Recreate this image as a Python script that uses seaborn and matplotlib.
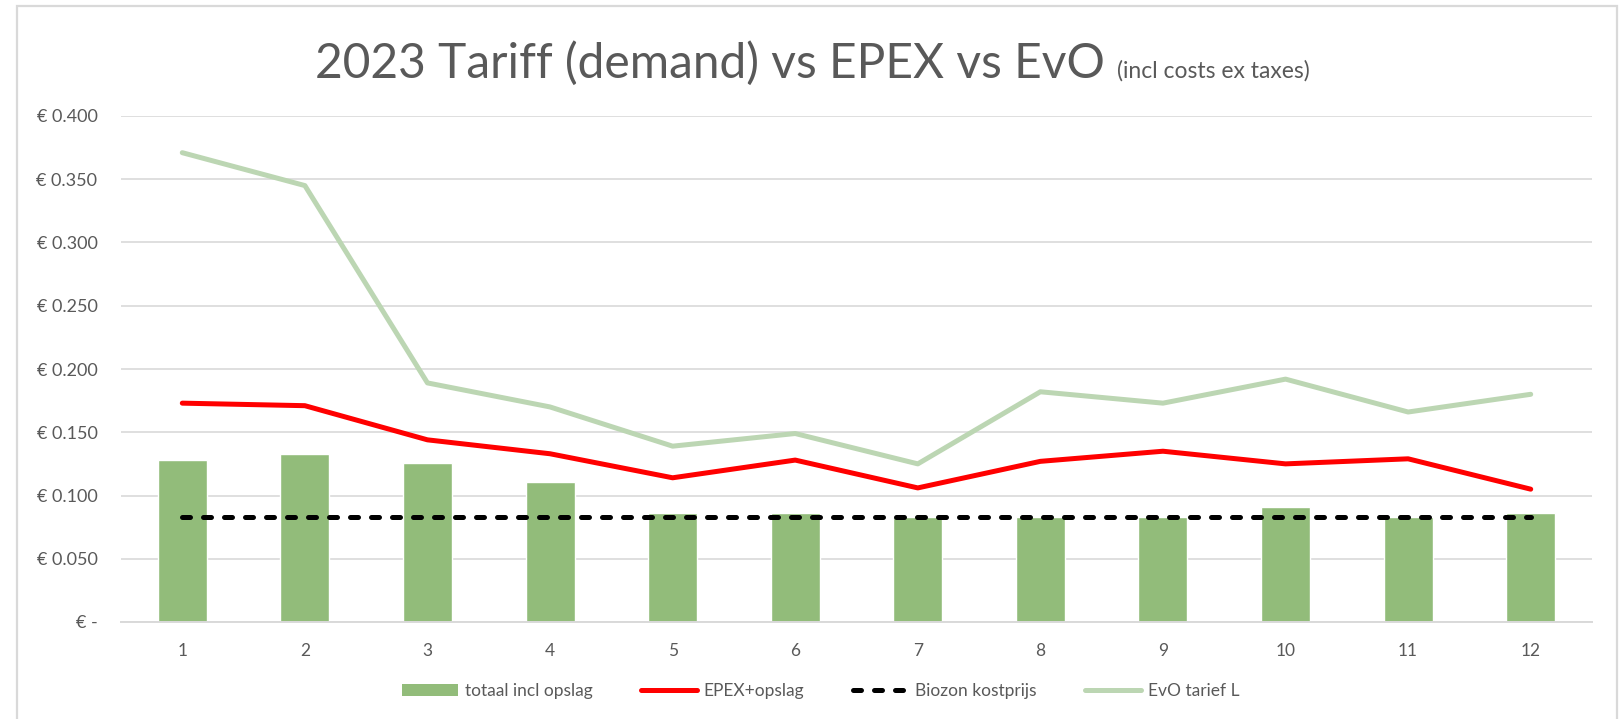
import numpy as np
import pandas as pd
import matplotlib
matplotlib.use("Agg")
import matplotlib.pyplot as plt
import seaborn as sns
from matplotlib.lines import Line2D
from matplotlib.patches import Patch, Rectangle
from matplotlib.ticker import FuncFormatter

# Data
months = [1, 2, 3, 4, 5, 6, 7, 8, 9, 10, 11, 12]
totaal_incl_opslag = [0.128, 0.133, 0.126, 0.111, 0.086, 0.086, 0.083, 0.083, 0.083, 0.091, 0.083, 0.086]
epex_opslag = [0.173, 0.171, 0.144, 0.133, 0.114, 0.128, 0.106, 0.127, 0.135, 0.125, 0.129, 0.105]
biozon_kostprijs = [0.083] * 12
evo_tarief_l = [0.371, 0.345, 0.189, 0.170, 0.139, 0.149, 0.125, 0.182, 0.173, 0.192, 0.166, 0.180]

BAR_C = "#92BC7A"
EVO_C = "#BCD6B3"
RED_C = "#FF0000"
GRID_C = "#D9D9D9"
TEXT_C = "#595959"

sns.set_style("white")
plt.rcParams["font.family"] = ["Lato", "DejaVu Sans"]

df = pd.DataFrame({
    "month": months,
    "totaal": totaal_incl_opslag,
    "epex": epex_opslag,
    "biozon": biozon_kostprijs,
    "evo": evo_tarief_l,
})

fig = plt.figure(figsize=(16.22, 7.19), dpi=100)
ax = fig.add_axes([121 / 1622, 97 / 719, 1471 / 1622, 506 / 719])

# outer chart frame
fig.patches.append(Rectangle((17 / 1622, -0.05), 1600 / 1622, 1.05 - 6 / 719,
                             transform=fig.transFigure, fill=False,
                             edgecolor=GRID_C, linewidth=1.6))

sns.barplot(data=df, x="month", y="totaal", native_scale=True, width=0.4,
            color=BAR_C, saturation=1, ax=ax, zorder=2)
sns.lineplot(data=df, x="month", y="epex", color=RED_C, linewidth=3.6,
             ax=ax, zorder=4, solid_capstyle="round", solid_joinstyle="round")
sns.lineplot(data=df, x="month", y="biozon", color="black", linewidth=3.6,
             ax=ax, zorder=5)
dash_line = ax.lines[-1]
dash_line.set_dashes((1.6, 2.6))
dash_line.set_dash_capstyle("round")
sns.lineplot(data=df, x="month", y="evo", color=EVO_C, linewidth=3.6,
             ax=ax, zorder=3, solid_capstyle="round", solid_joinstyle="round")

ax.set_xlim(0.5, 12.5)
ax.set_ylim(0, 0.4)
ax.set_yticks(np.arange(0, 0.401, 0.05))
ax.set_xticks(months)
ax.yaxis.set_major_formatter(FuncFormatter(lambda v, p: "€ -" if abs(v) < 1e-9 else f"€ {v:.3f}"))
ax.grid(axis="y", color=GRID_C, linewidth=1.2, zorder=0)
ax.set_axisbelow(True)
for s in ["top", "right", "left"]:
    ax.spines[s].set_visible(False)
ax.spines["bottom"].set_color(GRID_C)
ax.spines["bottom"].set_linewidth(1.4)
ax.tick_params(axis="y", length=0, pad=17, labelsize=13, labelcolor=TEXT_C)
ax.tick_params(axis="x", length=0, pad=15, labelsize=12.5, labelcolor=TEXT_C)
ax.set_xlabel("")
ax.set_ylabel("")

# title: main part plus a small subtitle right after it
main = fig.text(315 / 1622, 1 - 78 / 719, "2023 Tariff (demand) vs EPEX vs EvO",
                fontsize=34.5, color=TEXT_C, ha="left", va="baseline")
renderer = fig.canvas.get_renderer()
bb = main.get_window_extent(renderer)
fig.text((bb.x1 + 12) / 1622, 1 - 78 / 719, "(incl costs ex taxes)",
         fontsize=16.5, color=TEXT_C, ha="left", va="baseline")

legend_dash = Line2D([], [], color="black", linewidth=3.6)
legend_dash.set_dashes((1.6, 2.6))
legend_dash.set_dash_capstyle("round")
handles = [
    Patch(facecolor=BAR_C, edgecolor="none"),
    Line2D([], [], color=RED_C, linewidth=3.6),
    legend_dash,
    Line2D([], [], color=EVO_C, linewidth=3.6),
]
labels = ["totaal incl opslag", "EPEX+opslag", "Biozon kostprijs", "EvO tarief L"]
leg = fig.legend(handles, labels, loc="center", bbox_to_anchor=(0.506, 0.039),
                 ncol=4, frameon=False, fontsize=12.5, handlelength=3.2,
                 handletextpad=0.4, columnspacing=2.8)
for t in leg.get_texts():
    t.set_color(TEXT_C)

fig.savefig("out.png", dpi=100)
